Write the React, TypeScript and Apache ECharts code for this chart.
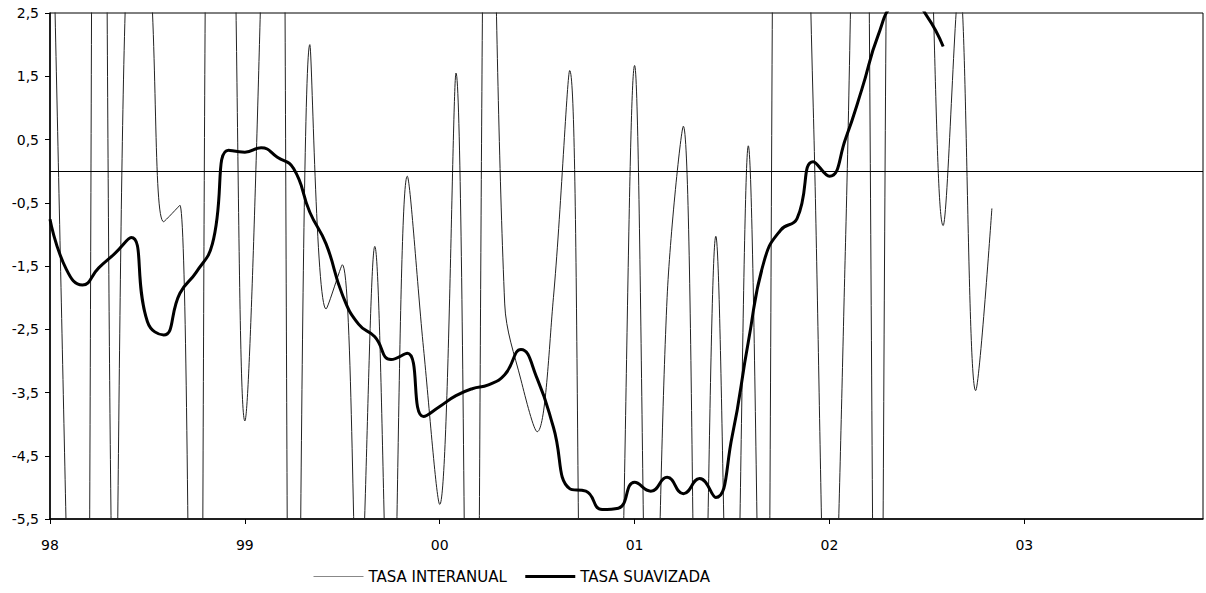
import React, { useEffect, useRef } from "react";
import * as echarts from "echarts";

// Year tick labels (one every 12 months, Jan 98 .. Dec 03)
const yearLabels = ["98", "99", "00", "01", "02", "03"];

// Y tick labels positions
const yTicks = [-5.5, -4.5, -3.5, -2.5, -1.5, -0.5, 0.5, 1.5, 2.5];

// TASA INTERANUAL (monthly, from Jan 98)
const tasaInteranual = [
  6.2, -5.7, -18, 22, -8, 4, 3.7, -0.8, -0.54, -21, 10, 8,
  -3.95, 3.0, 16, -16.5, 2.0, -2.18, -1.48, -7.3, -1.19, -8.5, -0.08, -2.8,
  -5.27, 1.55, -17, 8.5, -2.1, -3.3, -4.12, -2.0, 1.59, -13, -15, -9.2,
  1.67, -10.5, -2.0, 0.71, -11, -1.03, -10.4, 0.4, -12, 12, 10, 1.0,
  -9, -1.0, 11, -13, 10, 8, 5.3, -0.86, 3.0, -3.47, -0.59,
];

// TASA SUAVIZADA (monthly, from Jan 98)
const tasaSuavizada = [
  -0.76, -1.55, -1.8, -1.53, -1.3, -1.05, -2.38, -2.59, -1.93, -1.6, -1.15, 0.33,
  0.3, 0.37, 0.22, 0.04, -0.65, -1.15, -1.95, -2.42, -2.62, -2.98, -2.88, -3.88,
  -3.72, -3.55, -3.44, -3.38, -3.22, -2.82, -3.28, -4.05, -5.02, -5.06, -5.35, -5.33,
  -4.92, -5.06, -4.84, -5.1, -4.86, -5.16, -4.2, -2.7, -1.4, -0.93, -0.75, 0.15,
  -0.08, 0.52, 1.3, 2.15, 2.65, 2.72, 2.45, 1.97,
];

const months = yearLabels.flatMap((y) =>
  Array.from({ length: 12 }, (_, i) => `${y}-${String(i + 1).padStart(2, "0")}`)
);

const FONT = "DejaVu Sans";

export default function App() {
  const ref = useRef<HTMLDivElement>(null);
  useEffect(() => {
    if (!ref.current) return;
    const chart = echarts.init(ref.current, null, { renderer: "svg" });
    chart.setOption({
      animation: false,
      backgroundColor: "#fff",
      grid: {
        left: 50,
        right: 3,
        top: 13,
        bottom: 74,
        show: true,
        borderColor: "#000",
        borderWidth: 1,
        containLabel: false,
      },
      legend: {
        left: 313,
        top: 569,
        padding: 0,
        itemWidth: 50,
        itemHeight: 14,
        itemGap: 17,
        textStyle: { fontFamily: FONT, fontSize: 15, color: "#000" },
        data: [
          {
            name: "TASA INTERANUAL",
            lineStyle: { color: "#888", width: 1 },
            itemStyle: { opacity: 0 },
          },
          {
            name: "TASA SUAVIZADA",
            lineStyle: { color: "#000", width: 3 },
            itemStyle: { opacity: 0 },
          },
        ],
      },
      xAxis: {
        type: "category",
        data: months,
        boundaryGap: false,
        axisLine: { show: true, onZero: false, lineStyle: { color: "#000", width: 1.5 } },
        axisTick: { show: true, interval: 11, length: 5, lineStyle: { color: "#000" } },
        axisLabel: {
          interval: 11,
          margin: 19,
          fontFamily: FONT,
          fontSize: 14,
          color: "#000",
          formatter: (v: string) => v.slice(0, 2),
        },
        splitLine: { show: false },
      },
      yAxis: {
        type: "value",
        min: -5.5,
        max: 2.5,
        interval: 0.5,
        axisLine: { show: true, lineStyle: { color: "#000", width: 1.5 } },
        axisTick: { show: true, length: 5, customValues: yTicks, lineStyle: { color: "#000" } },
        axisLabel: {
          customValues: yTicks,
          margin: 11,
          fontFamily: FONT,
          fontSize: 14,
          color: "#000",
          formatter: (v: number) => v.toFixed(1).replace(".", ","),
        },
        splitLine: { show: false },
      },
      series: [
        {
          name: "TASA INTERANUAL",
          type: "line",
          data: tasaInteranual,
          smooth: 0.35,
          symbol: "none",
          clip: true,
          lineStyle: { color: "#222", width: 1 },
          itemStyle: { color: "#888" },
          z: 2,
          markLine: {
            silent: true,
            symbol: ["none", "none"],
            label: { show: false },
            lineStyle: { color: "#000", width: 1, type: "solid" },
            data: [{ yAxis: 0 }],
          },
        },
        {
          name: "TASA SUAVIZADA",
          type: "line",
          data: tasaSuavizada,
          smooth: 0.5,
          symbol: "none",
          clip: true,
          lineStyle: { color: "#000", width: 3 },
          itemStyle: { color: "#000" },
          z: 3,
        },
      ],
    });
    return () => chart.dispose();
  }, []);
  return (
    <div
      ref={ref}
      style={{ position: "absolute", left: 0, top: 0, width: 1206, height: 593, background: "#fff" }}
    />
  );
}
